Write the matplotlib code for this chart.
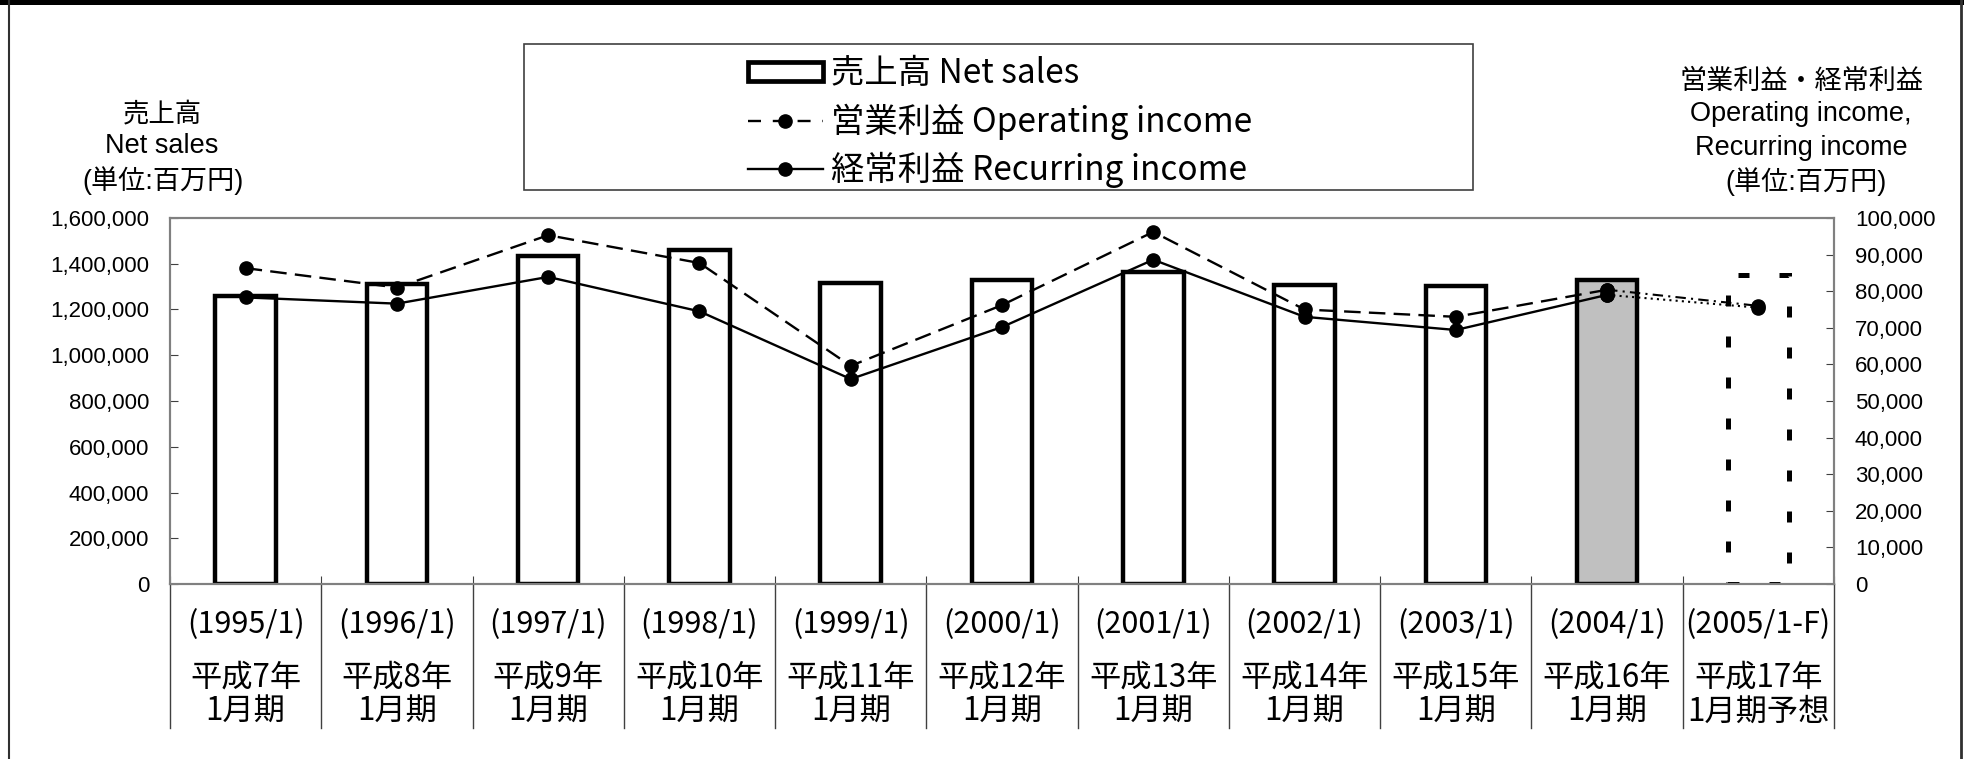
import numpy as np
import matplotlib.pyplot as plt
from matplotlib.patches import Rectangle
from matplotlib.lines import Line2D
from matplotlib.transforms import blended_transform_factory
from matplotlib.ticker import FuncFormatter, MultipleLocator

# data (million yen)
periods = ["(1995/1)", "(1996/1)", "(1997/1)", "(1998/1)", "(1999/1)", "(2000/1)",
           "(2001/1)", "(2002/1)", "(2003/1)", "(2004/1)", "(2005/1-F)"]
jp_periods = ["平成7年\n1月期", "平成8年\n1月期", "平成9年\n1月期", "平成10年\n1月期",
              "平成11年\n1月期", "平成12年\n1月期", "平成13年\n1月期", "平成14年\n1月期",
              "平成15年\n1月期", "平成16年\n1月期", "平成17年\n1月期予想"]
net_sales = [1257000, 1312000, 1432000, 1458000, 1315000, 1330000,
             1365000, 1305000, 1302000, 1328000, 1349000]
operating_income = [86300, 81000, 95300, 87700, 59600, 76200,
                    96200, 75000, 73000, 80400, 76000]
recurring_income = [78300, 76600, 83900, 74500, 56000, 70200,
                    88600, 73000, 69400, 79000, 75500]

latin_jp = ['Liberation Sans', 'Noto Sans CJK JP']
cjk = ['Noto Sans CJK JP', 'DejaVu Sans']

W, H = 1964, 759
fig = plt.figure(figsize=(W / 100, H / 100), dpi=100)
ax = fig.add_axes([170 / W, 1 - 584 / H, (1834 - 170) / W, (584 - 218) / H])
ax2 = ax.twinx()

x = np.arange(len(periods))
n_act = len(periods) - 1  # last one is the forecast

# Net sales bars
fills = ['white'] * (n_act - 1) + ['#C0C0C0']
ax.bar(x[:n_act], net_sales[:n_act], width=0.4, color=fills,
       edgecolor='black', linewidth=3.2, zorder=2)
ax.bar(x[n_act:], net_sales[n_act:], width=0.4, facecolor='none',
       edgecolor='black', linewidth=3.6, linestyle=(0, (2.2, 6.0)), zorder=2)

# income lines on the right axis
ax2.plot(x[:n_act], operating_income[:n_act], color='black', lw=1.7,
         dashes=(7, 3.5), marker='o', ms=9.5)
ax2.plot(x[n_act - 1:], operating_income[n_act - 1:], color='black', lw=1.5,
         linestyle=(0, (5, 2.5, 1, 2.5)), marker='o', ms=9.5)
ax2.plot(x[:n_act], recurring_income[:n_act], color='black', lw=1.7,
         marker='o', ms=9.5)
ax2.plot(x[n_act - 1:], recurring_income[n_act - 1:], color='black', lw=1.5,
         linestyle=(0, (1, 2)), marker='o', ms=9.5)

ax.set_xlim(-0.5, len(periods) - 0.5)
ax.set_ylim(0, 1600000)
ax2.set_ylim(0, 100000)
ax.yaxis.set_major_locator(MultipleLocator(200000))
ax2.yaxis.set_major_locator(MultipleLocator(10000))
comma = FuncFormatter(lambda v, p: f"{int(v):,}")
ax.yaxis.set_major_formatter(comma)
ax2.yaxis.set_major_formatter(comma)

for a in (ax, ax2):
    for s in a.spines.values():
        s.set_color('#808080')
        s.set_linewidth(1.5)
ax.tick_params(axis='y', direction='in', length=6, color='#404040',
               labelsize=16, pad=15)
ax2.tick_params(axis='y', direction='in', length=6, color='#404040',
                labelsize=16, pad=15)
for lab in ax.get_yticklabels() + ax2.get_yticklabels():
    lab.set_family('Liberation Sans')

# category boundaries
bounds = np.arange(-0.5, len(periods), 1)
ax.set_xticks(bounds)
ax.set_xticklabels([])
ax.tick_params(axis='x', direction='in', length=6, color='#404040')
trans = blended_transform_factory(ax.transData, ax.transAxes)
for b in bounds:
    ax.plot([b, b], [0, -0.393], transform=trans, color='#404040', lw=1,
            clip_on=False)

for i, (p, j) in enumerate(zip(periods, jp_periods)):
    ax.text(i, -0.110, p, transform=trans, ha='center', va='center',
            fontsize=22, family=cjk)
    l1, l2 = j.split('\n')
    ax.text(i, -0.255, l1, transform=trans, ha='center', va='center',
            fontsize=22.5, family=cjk)
    ax.text(i, -0.350, l2, transform=trans, ha='center', va='center',
            fontsize=22.5, family=cjk)

# axis titles
def ftext(px, py, s, size, fam):
    fig.text(px / W, 1 - py / H, s, ha='center', va='center',
             fontsize=size, family=fam)

ftext(162, 114, "売上高", 19, latin_jp)
ftext(162, 146, "Net sales", 19.5, latin_jp)
ftext(163, 181, "(単位:百万円)", 19.5, latin_jp)
ftext(1802, 82, "営業利益・経常利益", 19.5, latin_jp)
ftext(1801, 114, "Operating income,", 19.5, latin_jp)
ftext(1801, 148, "Recurring income", 19.5, latin_jp)
ftext(1806, 182, "(単位:百万円)", 19.5, latin_jp)

# legend with its own frame
handles = [
    Rectangle((0, 0), 1, 1, facecolor='white', edgecolor='black', linewidth=3.4),
    Line2D([], [], color='black', lw=1.7, dashes=(5.5, 5), marker='o', ms=9.5),
    Line2D([], [], color='black', lw=1.7, marker='o', ms=9.5),
]
labels = ["売上高 Net sales", "営業利益 Operating income", "経常利益 Recurring income"]
fig.legend(handles, labels, loc='center', bbox_to_anchor=(1000 / W, 1 - 122 / H),
           frameon=False, prop={'family': cjk, 'size': 24}, handlelength=2.25,
           handleheight=0.5, handletextpad=0.25, labelspacing=0.36,
           borderpad=0, borderaxespad=0)
fig.add_artist(Rectangle((524 / W, 1 - 190 / H), (1473 - 524) / W, (190 - 44) / H,
                         transform=fig.transFigure, facecolor='none',
                         edgecolor='#404040', linewidth=1.2))

# outer frame of the picture
fig.add_artist(Rectangle((0, 1 - 5 / H), 1, 5 / H, transform=fig.transFigure,
                         facecolor='black', edgecolor='none'))
fig.add_artist(Line2D([9 / W, 9 / W], [0, 1], transform=fig.transFigure,
                      color='#303030', lw=1.5))
fig.add_artist(Line2D([1961 / W, 1961 / W], [0, 1], transform=fig.transFigure,
                      color='#303030', lw=2))

fig.savefig('out.png', dpi=100)
